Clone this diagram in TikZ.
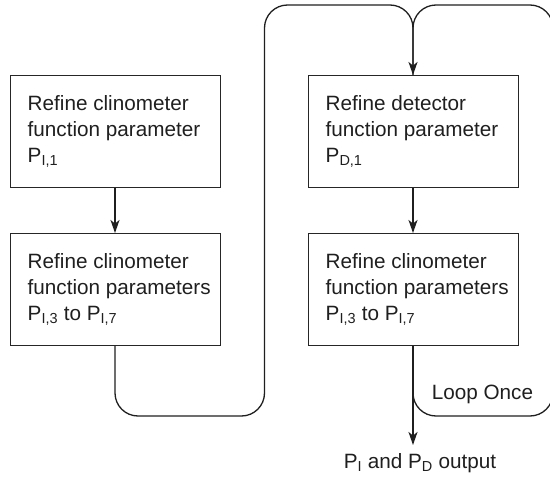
\documentclass[tikz,border=0pt]{standalone}
\usepackage{fontspec}
\setmainfont{Liberation Sans}
\usetikzlibrary{arrows.meta}
\begin{document}
\begin{tikzpicture}[x=1pt,y=-1pt,
  box/.style={draw=black!85, line width=1pt, minimum width=210pt, minimum height=112pt, inner sep=0pt},
  txt/.style={align=left, inner sep=0pt, font=\fontsize{20.7}{26}\selectfont, text=black!88},
  conn/.style={draw=black!88, line width=1.3pt},
  tip/.style={-{Stealth[length=13pt,width=9pt,inset=3.5pt]}},
  loopline/.style={conn, rounded corners=23pt}]
\clip (0,0) rectangle (550,479);
% boxes
\node[box] (A) at (115,131.5) {};
\node[box] (B) at (115,289.5) {};
\node[box] (C) at (413,131.5) {};
\node[box] (D) at (413,289.5) {};
% texts
\node[txt, anchor=west] (At) at ([xshift=18pt]A.west) {Refine clinometer\\function parameter\\P\textsubscript{I,1}};
\node[txt, anchor=west] (Bt) at ([xshift=18pt]B.west) {Refine clinometer\\function parameters\\P\textsubscript{I,3} to P\textsubscript{I,7}};
\node[txt, anchor=west] (Ct) at ([xshift=18pt]C.west) {Refine detector\\function parameter\\P\textsubscript{D,1}};
\node[txt, anchor=west] (Dt) at ([xshift=18pt]D.west) {Refine clinometer\\function parameters\\P\textsubscript{I,3} to P\textsubscript{I,7}};
\node[txt, anchor=base] (loop) at (482.5,399) {Loop Once};
\node[txt, anchor=base] (out) at (420,468) {P\textsubscript{I} and P\textsubscript{D} output};
\coordinate (o) at (413,445);
% connectors
\draw[conn, tip] (A) -- (B);
\draw[conn, tip] (C) -- (D);
\draw[conn, tip] (D.south) -- (o);
\draw[loopline, tip] (B.south) -- (115,416) -- (264.5,416) -- (264.5,5) -- (413,5) -- (C.north);
\draw[loopline] (D.south) -- (413,416) -- (553,416) -- (553,5) -- (413,5) -- (C.north);
\end{tikzpicture}
\end{document}
